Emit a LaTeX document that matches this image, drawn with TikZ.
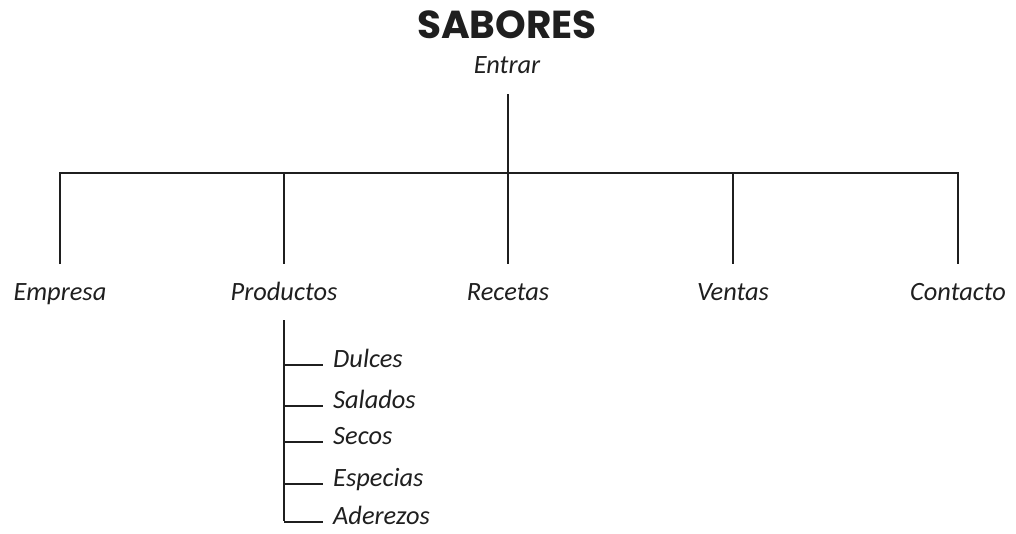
\documentclass[tikz,border=0pt]{standalone}
\usepackage{fontspec}
\setmainfont{Carlito}
\newfontfamily\titlefont{Poppins}
\begin{document}
\begin{tikzpicture}[x=1pt,y=-1pt,
  line/.style={line width=2pt, draw=black!88},
  lbl/.style={font=\itshape\fontsize{26.4}{30}\selectfont, text=black!88, inner sep=0pt, anchor=base},
  sublbl/.style={lbl, anchor=base west},
  ttl/.style={font=\titlefont\bfseries\fontsize{39}{43}\selectfont, text=black!88, inner sep=0pt, anchor=base}]
\useasboundingbox (0,0) rectangle (1016,533);
\node[ttl] (title) at (507,38) {SABORES};
\node[lbl] (entrar) at (507,73) {Entrar};
\coordinate (top) at (508,94);
\coordinate (bus) at (508,173);
\foreach \n/\x/\t in {empresa/60/Empresa, productos/284/Productos, recetas/508/Recetas, ventas/733/Ventas, contacto/958/Contacto}{
  \coordinate (j\n) at (\x,173);
  \coordinate (d\n) at (\x,264);
  \node[lbl] (\n) at (\x,300) {\t};
}
\draw[line] (top) -- (bus);
\draw[line] (dempresa) -- (jempresa) -- (jcontacto) -- (dcontacto);
\draw[line] (jproductos) -- (dproductos);
\draw[line] (jrecetas) -- (drecetas);
\draw[line] (jventas) -- (dventas);
\coordinate (ptop) at (284,320);
\foreach \n/\y/\t in {dulces/365/Dulces, salados/406/Salados, secos/442/Secos, especias/484/Especias, aderezos/522/Aderezos}{
  \coordinate (s\n) at (284,\y);
  \coordinate (e\n) at (323,\y);
  \node[sublbl] (\n) at (333,\y+2) {\t};
  \draw[line] (s\n) -- (e\n);
}
\draw[line] (ptop) -- ([yshift=1pt]saderezos);
\end{tikzpicture}
\end{document}
